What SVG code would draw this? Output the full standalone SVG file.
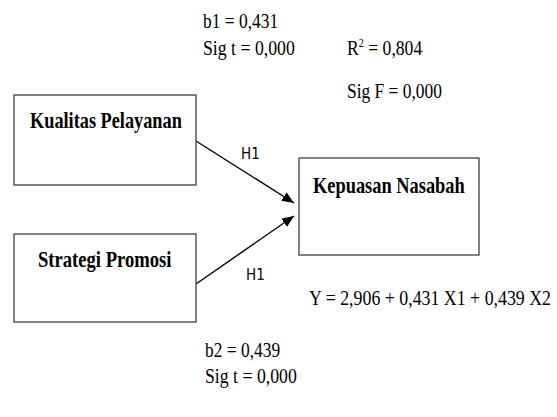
<svg xmlns="http://www.w3.org/2000/svg" width="557" height="417" viewBox="0 0 557 417">
<style>
.box{fill:#fff;stroke:#404040;stroke-width:1.3}
.lbl{font-family:"Liberation Serif","Times New Roman",serif;font-weight:bold;font-size:23px;fill:#000}
.t{font-family:"Liberation Serif","Times New Roman",serif;font-size:21px;fill:#000}
.h{font-family:"DejaVu Sans Condensed","Liberation Sans",sans-serif;font-size:15px;fill:#000}
.con{stroke:#000;stroke-width:1.4;fill:none}
</style>
<defs>
<marker id="ah" viewBox="0 0 12 10" refX="12" refY="5" markerWidth="12" markerHeight="10" markerUnits="userSpaceOnUse" orient="auto">
<path d="M0,0 L12,5 L0,10 Z" fill="#000"/>
</marker>
</defs>
<rect width="557" height="417" fill="#fff"/>
<g id="connectors">
<line class="con" x1="196" y1="141" x2="294" y2="203" marker-end="url(#ah)"/>
<line class="con" x1="196" y1="284" x2="294" y2="216" marker-end="url(#ah)"/>
<text class="h" x="241" y="159">H1</text>
<text class="h" x="246" y="280">H1</text>
</g>
<g id="node-kualitas">
<rect class="box" x="14" y="95" width="182" height="90"/>
<text class="lbl" transform="translate(30,128) scale(0.795,1)">Kualitas Pelayanan</text>
</g>
<g id="node-strategi">
<rect class="box" x="14" y="234" width="182" height="88"/>
<text class="lbl" transform="translate(38,267) scale(0.81,1)">Strategi Promosi</text>
</g>
<g id="node-kepuasan">
<rect class="box" x="299" y="158" width="180" height="97"/>
<text class="lbl" transform="translate(313,193) scale(0.8,1)">Kepuasan Nasabah</text>
</g>
<g id="stats">
<text class="t" transform="translate(203,28) scale(0.83,1)">b1 = 0,431</text>
<text class="t" transform="translate(203,55) scale(0.845,1)">Sig t = 0,000</text>
<text class="t" transform="translate(347,55) scale(0.84,1)">R<tspan font-size="12" dy="-8">2</tspan><tspan dy="8"> = 0,804</tspan></text>
<text class="t" transform="translate(347,98) scale(0.83,1)">Sig F = 0,000</text>
<text class="t" transform="translate(309,305) scale(0.85,1)">Y = 2,906 + 0,431 X1 + 0,439 X2</text>
<text class="t" transform="translate(205,357) scale(0.83,1)">b2 = 0,439</text>
<text class="t" transform="translate(205,383) scale(0.845,1)">Sig t = 0,000</text>
</g>
</svg>
